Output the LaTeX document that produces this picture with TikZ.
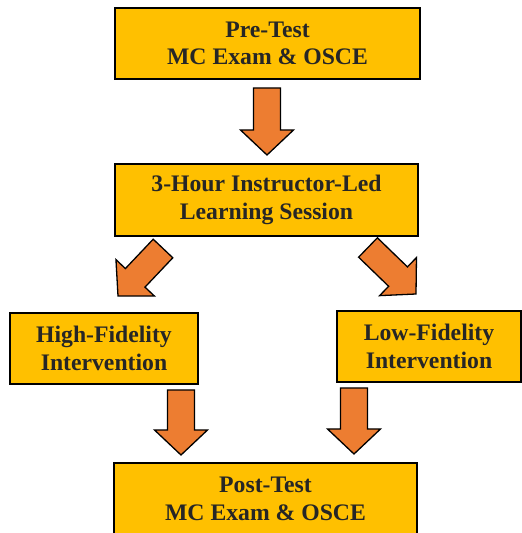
\documentclass[tikz,border=0pt]{standalone}
\usepackage{fontspec}
\setmainfont{Liberation Serif}
\usepackage{xcolor}
\usepackage{tikz}
\usetikzlibrary{calc}

\definecolor{boxamber}{HTML}{FFC000}
\definecolor{arroworange}{HTML}{ED7D31}
\definecolor{boxtext}{HTML}{262626}

\tikzset{
    stagebox/.style={draw=black,line width=1.3pt,fill=boxamber,text=boxtext,
        align=center,inner sep=0pt,
        font=\fontsize{23.7}{27.5}\selectfont\bfseries},
    fatarrow/.style={draw=black,line width=1.3pt,fill=arroworange,line join=miter}
}

% block arrow from tail (#1) to tip (#2)
\newcommand\fatarrow[2]{%
    \path (#1) coordinate (fa-s) (#2) coordinate (fa-e)
        ($(fa-e)!25pt!(fa-s)$) coordinate (fa-h);
    \draw[fatarrow] ($(fa-s)!13.5pt!90:(fa-e)$)
        -- ($(fa-h)!13.5pt!90:(fa-e)$)
        -- ($(fa-h)!26.5pt!90:(fa-e)$)
        -- (fa-e)
        -- ($(fa-h)!26.5pt!-90:(fa-e)$)
        -- ($(fa-h)!13.5pt!-90:(fa-e)$)
        -- ($(fa-s)!13.5pt!-90:(fa-e)$) -- cycle;}

\begin{document}
\begin{tikzpicture}[x=1pt,y=1pt]
    \useasboundingbox (0,0) rectangle (522,533);

    \node[stagebox,minimum width=305pt,minimum height=71pt] (pre) at (267.5,489.5)
        {Pre-Test\\MC Exam \& OSCE};
    \node[stagebox,minimum width=303pt,minimum height=72pt] (session) at (266.5,333)
        {3-Hour Instructor-Led\\Learning Session};
    \node[stagebox,minimum width=188pt,minimum height=71pt] (high) at (104,184.5)
        {High-Fidelity\\Intervention};
    \node[stagebox,minimum width=184pt,minimum height=71pt] (low) at (429,186.5)
        {Low-Fidelity\\Intervention};
    \node[stagebox,minimum width=303pt,minimum height=72pt] (post) at (265.5,34)
        {Post-Test\\MC Exam \& OSCE};

    \coordinate (pre-out)     at (267,445);
    \coordinate (session-in)  at (267,378);
    \coordinate (session-l)   at (163,284.5);
    \coordinate (high-in)     at (118,237);
    \coordinate (session-r)   at (368,285.5);
    \coordinate (low-in)      at (416,239);
    \coordinate (high-out)    at (181,143);
    \coordinate (post-l)      at (181,78);
    \coordinate (low-out)     at (354,145);
    \coordinate (post-r)      at (354,79);

    \fatarrow{pre-out}{session-in}
    \fatarrow{session-l}{high-in}
    \fatarrow{session-r}{low-in}
    \fatarrow{high-out}{post-l}
    \fatarrow{low-out}{post-r}
\end{tikzpicture}
\end{document}
